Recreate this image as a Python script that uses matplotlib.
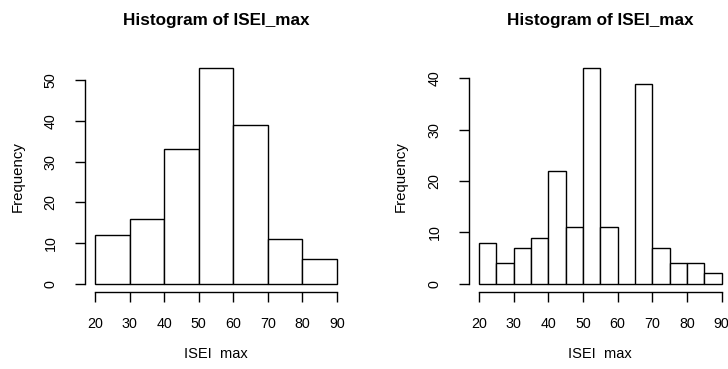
import numpy as np
import matplotlib
matplotlib.use("Agg")
from matplotlib import pyplot as plt

plt.rcParams['font.family'] = ['Liberation Sans', 'DejaVu Sans']

# left histogram: bins of width 10
left_edges = [20, 30, 40, 50, 60, 70, 80, 90]
left_counts = [12, 16, 33, 53, 39, 11, 6]

# right histogram: bins of width 5
right_edges = [20, 25, 30, 35, 40, 45, 50, 55, 60, 65, 70, 75, 80, 85, 90]
right_counts = [8, 4, 7, 9, 22, 11, 42, 11, 0, 39, 7, 4, 4, 2]

x_ticks = [20, 30, 40, 50, 60, 70, 80, 90]
left_yticks = [0, 10, 20, 30, 40, 50]
right_yticks = [0, 10, 20, 30, 40]

W, H = 728, 369
fig = plt.figure(figsize=(W / 100, H / 100), dpi=100)


def add_panel(x0, x1, y0, y1):
    # pixel box (from top-left) -> figure fraction
    return fig.add_axes([x0 / W, 1 - y1 / H, (x1 - x0) / W, (y1 - y0) / H])


def r_hist(ax, edges, counts, yticks):
    edges = np.array(edges)
    ax.bar(edges[:-1], counts, width=np.diff(edges), align='edge',
           facecolor='white', edgecolor='black', linewidth=1.0)
    ax.set_xlim(17.2, 92.8)
    top = max(counts)
    ax.set_ylim(-0.04 * top, 1.04 * top)
    for s in ['top', 'right']:
        ax.spines[s].set_visible(False)
    ax.spines['left'].set_bounds(yticks[0], yticks[-1])
    ax.spines['bottom'].set_bounds(x_ticks[0], x_ticks[-1])
    ax.spines['left'].set_linewidth(1.0)
    ax.spines['bottom'].set_linewidth(1.0)
    ax.set_xticks(x_ticks)
    ax.set_yticks(yticks)
    ax.tick_params(direction='out', length=7, width=1.0, labelsize=10.3,
                   colors='black')
    ax.tick_params(axis='x', pad=11)
    ax.tick_params(axis='y', pad=13)
    for lab in ax.get_yticklabels():
        lab.set_rotation(90)
        lab.set_va('center')
    ax.set_title('Histogram of ISEI_max', fontsize=12.3, fontweight='bold',
                 pad=25)


ax1 = add_panel(85.3, 346.7, 59.4, 292.3)
r_hist(ax1, left_edges, left_counts, left_yticks)
ax2 = add_panel(469.3, 731.4, 59.6, 292.3)
r_hist(ax2, right_edges, right_counts, right_yticks)

# axis labels placed like R's mtext lines
fig.text(216 / W, 1 - 354 / H, 'ISEI  max', ha='center', va='center',
         fontsize=10.5)
fig.text(600 / W, 1 - 354 / H, 'ISEI  max', ha='center', va='center',
         fontsize=10.5)
fig.text(18 / W, 1 - 177 / H, 'Frequency', ha='center', va='center',
         rotation=90, fontsize=10.8)
fig.text(401 / W, 1 - 177 / H, 'Frequency', ha='center', va='center',
         rotation=90, fontsize=10.8)

fig.savefig('out.png', dpi=100)
